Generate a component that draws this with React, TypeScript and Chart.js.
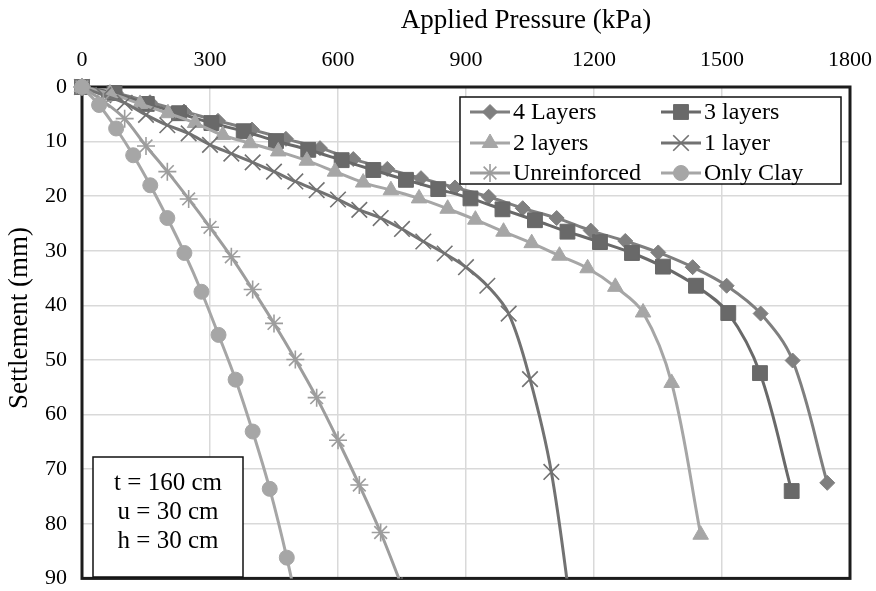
import React, { useEffect, useRef } from 'react';
import { Chart, registerables } from 'chart.js';
import { drawPoint } from 'chart.js/helpers';

Chart.register(...registerables);

// ---------- data ----------
const seriesNames = ['4 Layers', '3 layers', '2 layers', '1 layer', 'Unreinforced', 'Only Clay'];

const layers4Pressure = [0, 79.7, 159.4, 239, 318.7, 398.4, 478, 557.8, 635.8, 715.5, 794.5, 874.2, 953.1, 1032.8, 1112.5, 1192.4, 1273.3, 1350.6, 1431.2, 1510.9, 1590.6, 1665.6, 1746.7];
const layers4Settlement = [0, 1.1, 2.8, 4.5, 6.2, 7.8, 9.5, 11.2, 13.2, 15.0, 16.7, 18.4, 20.1, 22.2, 24.0, 26.3, 28.2, 30.3, 33.0, 36.4, 41.5, 50.1, 72.5];

const layers3Pressure = [0, 76.2, 151.9, 227.3, 303.3, 379, 454.7, 530.3, 608.6, 682.7, 759.3, 835, 910.5, 985.5, 1061.6, 1137.8, 1214, 1289, 1361.6, 1439, 1514.7, 1589, 1663.3];
const layers3Settlement = [0, 1.1, 3.1, 4.8, 6.6, 8.1, 9.9, 11.5, 13.4, 15.2, 17.0, 18.7, 20.4, 22.4, 24.4, 26.5, 28.4, 30.4, 32.9, 36.4, 41.4, 52.4, 74.0];

const layers2Pressure = [0, 65.6, 136, 201.5, 265, 330, 394, 460, 527, 593, 659, 724, 790, 857, 922, 988, 1054, 1119, 1185, 1250, 1315, 1382, 1450];
const layers2Settlement = [0, 1.2, 3.1, 4.8, 6.6, 8.8, 10.3, 11.8, 13.5, 15.5, 17.5, 18.9, 20.4, 22.3, 24.3, 26.5, 28.6, 30.9, 33.2, 36.6, 41.3, 54.2, 82.0];

const layer1Pressure = [0, 50, 100, 150, 200, 250, 300, 350, 400, 450, 500, 550, 600, 650, 700, 750, 800, 850, 900, 950, 1000, 1050, 1100, 1150];
const layer1Settlement = [0, 1.5, 2.9, 5.1, 7.0, 8.5, 10.6, 12.2, 13.8, 15.5, 17.3, 18.9, 20.6, 22.5, 24.0, 26.0, 28.3, 30.5, 33.0, 36.4, 41.5, 53.5, 70.5, 98];

const unreinforcedPressure = [0, 50, 100, 150, 200, 250, 300, 350, 400, 450, 500, 550, 600, 650, 700, 750];
const unreinforcedSettlement = [0, 2.6, 5.8, 10.8, 15.5, 20.5, 25.7, 31.1, 37.1, 43.3, 49.9, 56.9, 64.7, 72.9, 81.6, 91.5];

const clayPressure = [0, 40, 80, 120, 160, 200, 240, 280, 320, 360, 400, 440, 480, 520];
const claySettlement = [0, 3.3, 7.6, 12.5, 18.0, 24.0, 30.4, 37.5, 45.4, 53.6, 63.1, 73.6, 86.2, 101];

const xTickStep = 300;
const xMax = 1800;
const yTickStep = 10;
const yMax = 90;

const boxLines = ['t = 160 cm', 'u = 30 cm', 'h = 30 cm'];

const xTitle = 'Applied Pressure (kPa)';
const yTitle = 'Settlement (mm)';

// ---------- styles ----------
const FONT = '"Liberation Serif", "Times New Roman", serif';

const styles = [
  { color: '#7f7f7f', point: 'rectRot', radius: 7.5, pw: 1 },
  { color: '#696969', point: 'rect', radius: 10.5, pw: 1 },
  { color: '#a6a6a6', point: 'triangle', radius: 9, pw: 1 },
  { color: '#727272', point: 'crossRot', radius: 11, pw: 1.6 },
  { color: '#9d9d9d', point: 'star', radius: 9, pw: 1.6 },
  { color: '#a6a6a6', point: 'circle', radius: 7.5, pw: 1 },
];

const seriesX = [layers4Pressure, layers3Pressure, layers2Pressure, layer1Pressure, unreinforcedPressure, clayPressure];
const seriesY = [layers4Settlement, layers3Settlement, layers2Settlement, layer1Settlement, unreinforcedSettlement, claySettlement];

const overlayPlugin = {
  id: 'overlay',
  beforeDatasetsDraw(chart: any) {
    const { ctx, chartArea: a } = chart;
    ctx.save();
    ctx.strokeStyle = '#1c1c1c';
    ctx.lineWidth = 3;
    ctx.strokeRect(a.left, a.top, a.right - a.left, a.bottom - a.top);
    ctx.restore();
  },
  afterDatasetsDraw(chart: any) {
    const { ctx } = chart;
    ctx.save();
    // legend box
    const lx = 460, ly = 97, lw = 381, lh = 87;
    ctx.fillStyle = '#fff';
    ctx.fillRect(lx, ly, lw, lh);
    ctx.strokeStyle = '#111';
    ctx.lineWidth = 1.5;
    ctx.strokeRect(lx, ly, lw, lh);
    const colX = [470, 661];
    const rowY = [112, 143, 173];
    ctx.font = `24px ${FONT}`;
    ctx.textBaseline = 'middle';
    seriesNames.forEach((name, i) => {
      const st = styles[i];
      const x0 = colX[i % 2];
      const y = rowY[Math.floor(i / 2)];
      ctx.strokeStyle = st.color;
      ctx.lineWidth = 3;
      ctx.beginPath();
      ctx.moveTo(x0, y);
      ctx.lineTo(x0 + 40, y);
      ctx.stroke();
      ctx.fillStyle = st.color;
      ctx.strokeStyle = st.color;
      ctx.lineWidth = st.pw;
      drawPoint(ctx, { pointStyle: st.point, radius: st.radius, borderWidth: st.pw, rotation: 0 } as any, x0 + 20, y);
      ctx.fillStyle = '#000';
      ctx.textAlign = 'left';
      ctx.fillText(name, x0 + 43, y + 1);
    });
    // parameter box
    const bx = 93, by = 457, bw = 150, bh = 120;
    ctx.fillStyle = '#fff';
    ctx.fillRect(bx, by, bw, bh);
    ctx.strokeStyle = '#111';
    ctx.lineWidth = 1.5;
    ctx.strokeRect(bx, by, bw, bh);
    ctx.fillStyle = '#000';
    ctx.textAlign = 'center';
    ctx.font = `25px ${FONT}`;
    boxLines.forEach((t, i) => ctx.fillText(t, bx + bw / 2, 483 + i * 29));
    // titles
    ctx.font = `27px ${FONT}`;
    ctx.fillText(xTitle, 526, 21);
    ctx.translate(20, 318);
    ctx.rotate(-Math.PI / 2);
    ctx.fillText(yTitle, 0, 0);
    ctx.restore();
  },
};

export default function App() {
  const ref = useRef<HTMLCanvasElement | null>(null);
  useEffect(() => {
    if (!ref.current) return;
    const datasets = seriesNames.map((name, i) => {
      const st = styles[i];
      return {
        label: name,
        data: seriesX[i].map((x, k) => ({ x, y: seriesY[i][k] })),
        borderColor: st.color,
        backgroundColor: st.color,
        pointBackgroundColor: st.color,
        pointBorderColor: st.color,
        pointStyle: st.point,
        pointRadius: st.radius,
        pointHoverRadius: st.radius,
        pointBorderWidth: st.pw,
        borderWidth: 3,
        tension: 0.35,
        fill: false,
        order: 6 - i,
        clip: { left: 20, top: 20, right: 20, bottom: 0 },
      };
    });
    const tickFont = { family: FONT, size: 22 };
    const plain = (v: any) => String(v);
    const chart = new Chart(ref.current, {
      type: 'line',
      data: { datasets } as any,
      options: {
        animation: false,
        responsive: false,
        devicePixelRatio: 1,
        layout: { padding: { left: 0, right: 26, top: 0, bottom: 9 } },
        elements: { line: { capBezierPoints: false } },
        plugins: { legend: { display: false }, tooltip: { enabled: false } },
        scales: {
          x: {
            type: 'linear',
            position: 'top',
            min: 0,
            max: xMax,
            ticks: { stepSize: xTickStep, font: tickFont, color: '#000', padding: 14, maxRotation: 0, callback: plain },
            grid: { color: '#d9d9d9', lineWidth: 1.5, drawTicks: false },
            border: { display: false },
            afterFit: (s: any) => { s.height = 87; s.paddingLeft = 0; s.paddingRight = 0; },
          },
          y: {
            type: 'linear',
            reverse: true,
            min: 0,
            max: yMax,
            ticks: { stepSize: yTickStep, font: tickFont, color: '#000', padding: 15, callback: plain },
            grid: { color: '#d9d9d9', lineWidth: 1.5, drawTicks: false },
            border: { display: false },
            afterFit: (s: any) => { s.width = 82; s.paddingTop = 0; s.paddingBottom = 0; },
          },
        },
      } as any,
      plugins: [overlayPlugin],
    });
    return () => chart.destroy();
  }, []);
  return (
    <div style={{ position: 'fixed', left: 0, top: 0, width: 876, height: 591, background: '#fff' }}>
      <canvas ref={ref} width={876} height={591} style={{ width: 876, height: 591 }} />
    </div>
  );
}
